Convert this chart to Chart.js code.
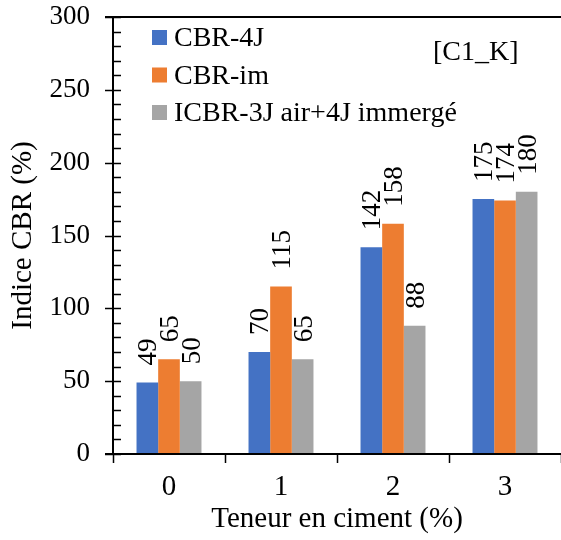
<!DOCTYPE html>
<html>
<head>
<meta charset="utf-8">
<script src="https://cdn.jsdelivr.net/npm/chart.js@4"></script>
<style>
  body { margin: 0; background: #fff; }
</style>
</head>
<body>
<canvas id="cbr" width="561" height="540"></canvas>
<script>
const teneur = ["0", "1", "2", "3"];
const cbr4j = [49, 70, 142, 175];
const cbrIm = [65, 115, 158, 174];
const icbr = [50, 65, 88, 180];
const serieNames = ["CBR-4J", "CBR-im", "ICBR-3J air+4J immergé"];
const serieColors = ["#4472C4", "#ED7D31", "#A5A5A5"];
const tag = "[C1_K]";

const FONT = "'Liberation Serif', 'Times New Roman', serif";

// axes, ticks, legend, data labels drawn by hand like the excel figure
const excelLook = {
  id: "excelLook",
  afterDraw(chart) {
    const ctx = chart.ctx;
    const y = chart.scales.y;
    const area = chart.chartArea;
    const y0 = y.getPixelForValue(0);
    const yTop = y.getPixelForValue(300);
    ctx.save();
    ctx.strokeStyle = "#000";
    ctx.lineWidth = 2;
    ctx.beginPath();
    ctx.moveTo(area.left, y0);
    ctx.lineTo(area.left, yTop);
    ctx.moveTo(area.left - 8, y0);
    ctx.lineTo(chart.width, y0);
    ctx.moveTo(area.left - 8, yTop);
    ctx.lineTo(chart.width, yTop);
    ctx.stroke();

    ctx.lineWidth = 1.5;
    ctx.beginPath();
    for (let v = 0; v <= 300; v += 10) {
      const py = Math.round(y.getPixelForValue(v)) + 0.5;
      ctx.moveTo(v % 50 === 0 ? area.left - 8 : area.left, py);
      ctx.lineTo(area.left + 8, py);
    }
    const step = (area.right - area.left) / teneur.length;
    for (let i = 0; i <= teneur.length; i++) {
      const px = Math.round(area.left + i * step) + 0.5;
      ctx.moveTo(px, y0);
      ctx.lineTo(px, y0 + 9);
    }
    ctx.stroke();

    // values on top of the bars
    ctx.fillStyle = "#000";
    ctx.font = "27px " + FONT;
    ctx.textAlign = "left";
    ctx.textBaseline = "middle";
    chart.data.datasets.forEach((ds, di) => {
      chart.getDatasetMeta(di).data.forEach((bar, i) => {
        ctx.save();
        ctx.translate(bar.x + 2, bar.y - 17);
        ctx.rotate(-Math.PI / 2);
        ctx.fillText(String(ds.data[i]), 0, 0);
        ctx.restore();
      });
    });

    // legend
    ctx.font = "28px " + FONT;
    chart.data.datasets.forEach((ds, di) => {
      const cy = 37 + di * 37.5;
      ctx.fillStyle = ds.backgroundColor;
      ctx.fillRect(152, cy - 7, 15, 15);
      ctx.fillStyle = "#000";
      ctx.fillText(ds.label, 174, cy + 2);
    });
    ctx.fillText(tag, 433, 53);
    ctx.restore();
  }
};

new Chart(document.getElementById("cbr"), {
  type: "bar",
  data: {
    labels: teneur,
    datasets: [
      { label: serieNames[0], data: cbr4j, backgroundColor: serieColors[0] },
      { label: serieNames[1], data: cbrIm, backgroundColor: serieColors[1] },
      { label: serieNames[2], data: icbr, backgroundColor: serieColors[2] }
    ]
  },
  options: {
    responsive: false,
    devicePixelRatio: 1,
    animation: false,
    layout: { padding: { top: 17, right: 0, left: 0, bottom: 0 } },
    datasets: { bar: { categoryPercentage: 0.58, barPercentage: 1 } },
    plugins: { legend: { display: false }, tooltip: { enabled: false } },
    scales: {
      x: {
        grid: { display: false, drawTicks: false },
        border: { display: false },
        ticks: { color: "#000", font: { family: FONT, size: 29 }, padding: 16 },
        title: {
          display: true, text: "Teneur en ciment (%)", color: "#000",
          font: { family: FONT, size: 29 }, padding: { top: 0, bottom: 3 }
        },
        afterFit(scale) {
          scale.height = 86;
          scale.paddingLeft = 0;
          scale.paddingRight = 0;
        }
      },
      y: {
        min: 0, max: 300,
        grid: { display: false, drawTicks: false },
        border: { display: false },
        ticks: { stepSize: 50, color: "#000", font: { family: FONT, size: 27 }, padding: 23 },
        title: {
          display: true, text: "Indice CBR (%)", color: "#000",
          font: { family: FONT, size: 29 }, padding: { top: 6, bottom: 0 }
        },
        afterFit(scale) {
          scale.width = 113;
          scale.paddingTop = 0;
          scale.paddingBottom = 0;
        }
      }
    }
  },
  plugins: [excelLook]
});
</script>
</body>
</html>
